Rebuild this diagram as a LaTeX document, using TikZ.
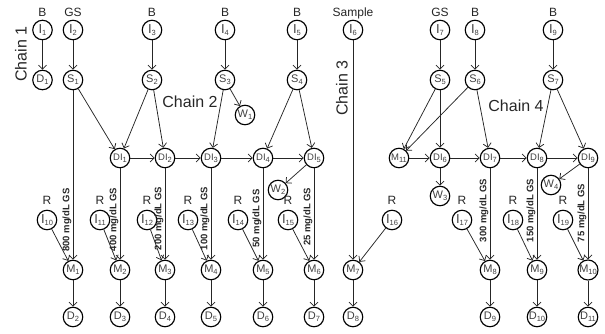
\documentclass[tikz,border=0pt]{standalone}
\usepackage{fontspec}
\setmainfont{Liberation Sans}
\usetikzlibrary{arrows.meta}
% small lowered index inside the circles
\newcommand{\nsub}[1]{\raisebox{-0.35ex}{\fontsize{7.5}{8}\selectfont #1}}
\tikzset{
  nd/.style={circle, draw=black, line width=1.15pt, minimum size=19.5pt, inner sep=0pt,
             text=black!75, font=\fontsize{11}{12}\selectfont},
  ind/.style={nd, font=\fontsize{13}{14}\selectfont},
  dnd/.style={nd, font=\fontsize{9.5}{10}\selectfont},
  arr/.style={draw=black!85, line width=0.75pt, -{Straight Barb[length=4pt,width=8pt]}},
  toplbl/.style={font=\fontsize{12}{13}\selectfont, inner sep=1pt, text depth=0pt, text=black!85},
  chainlbl/.style={font=\fontsize{16}{17}\selectfont, inner sep=0pt, text=black!85},
  conc/.style={rotate=90, anchor=south, inner sep=1.2pt, text=black!85,
               font=\bfseries\fontsize{9.5}{10}\selectfont},
}
\begin{document}
\begin{tikzpicture}[x=1pt, y=-1pt]
\useasboundingbox (0,0) rectangle (605,333);

% ---- input row
\node[ind, label={[toplbl, label distance=2pt]above:B}]      (I1) at (42.5,30) {I\nsub{1}};
\node[ind, label={[toplbl, label distance=2pt]above:GS}]     (I2) at (73,30)   {I\nsub{2}};
\node[ind, label={[toplbl, label distance=2pt]above:B}]      (I3) at (152,30)  {I\nsub{3}};
\node[ind, label={[toplbl, label distance=2pt]above:B}]      (I4) at (225,30)  {I\nsub{4}};
\node[ind, label={[toplbl, label distance=2pt]above:B}]      (I5) at (297,30)  {I\nsub{5}};
\node[ind, label={[toplbl, label distance=2pt]above:Sample}] (I6) at (353,30)  {I\nsub{6}};
\node[ind, label={[toplbl, label distance=2pt]above:GS}]     (I7) at (440,30)  {I\nsub{7}};
\node[ind, label={[toplbl, label distance=2pt]above:B}]      (I8) at (475,30)  {I\nsub{8}};
\node[ind, label={[toplbl, label distance=2pt]above:B}]      (I9) at (553,30)  {I\nsub{9}};

% ---- second row
\node[nd] (D1) at (42.5,80) {D\nsub{1}};
\node[nd] (S1) at (73,80)   {S\nsub{1}};
\node[nd] (S2) at (152,80)  {S\nsub{2}};
\node[nd] (S3) at (225,80)  {S\nsub{3}};
\node[nd] (S4) at (297,80)  {S\nsub{4}};
\node[nd] (S5) at (440,80)  {S\nsub{5}};
\node[nd] (S6) at (475,80)  {S\nsub{6}};
\node[nd] (S7) at (553,80)  {S\nsub{7}};
\node[nd] (W1) at (245,115) {W\nsub{1}};

% ---- dilution row
\node[dnd] (DI1) at (120,158) {DI\nsub{1}};
\node[dnd] (DI2) at (165,158) {DI\nsub{2}};
\node[dnd] (DI3) at (211,158) {DI\nsub{3}};
\node[dnd] (DI4) at (263,158) {DI\nsub{4}};
\node[dnd] (DI5) at (314,158) {DI\nsub{5}};
\node[dnd] (M11) at (399,158) {M\nsub{11}};
\node[dnd] (DI6) at (440,158) {DI\nsub{6}};
\node[dnd] (DI7) at (490,158) {DI\nsub{7}};
\node[dnd] (DI8) at (537,158) {DI\nsub{8}};
\node[dnd] (DI9) at (588,158) {DI\nsub{9}};
\node[nd] (W2) at (278,190) {W\nsub{2}};
\node[nd] (W3) at (440,196) {W\nsub{3}};
\node[nd] (W4) at (551,185) {W\nsub{4}};

% ---- reagent inputs
\node[ind, label={[toplbl, label distance=4pt]above:R}] (I10) at (47,220)  {I\nsub{10}};
\node[ind, label={[toplbl, label distance=4pt]above:R}] (I11) at (100,220) {I\nsub{11}};
\node[ind, label={[toplbl, label distance=4pt]above:R}] (I12) at (147,220) {I\nsub{12}};
\node[ind, label={[toplbl, label distance=4pt]above:R}] (I13) at (188,220) {I\nsub{13}};
\node[ind, label={[toplbl, label distance=4pt]above:R}] (I14) at (238,220) {I\nsub{14}};
\node[ind, label={[toplbl, label distance=4pt]above:R}] (I15) at (288,220) {I\nsub{15}};
\node[ind, label={[toplbl, label distance=4pt]above:R}] (I16) at (392,220) {I\nsub{16}};
\node[ind, label={[toplbl, label distance=4pt]above:R}] (I17) at (462,220) {I\nsub{17}};
\node[ind, label={[toplbl, label distance=4pt]above:R}] (I18) at (513,220) {I\nsub{18}};
\node[ind, label={[toplbl, label distance=4pt]above:R}] (I19) at (563,220) {I\nsub{19}};

% ---- mixers
\node[nd] (M1)  at (73,270)  {M\nsub{1}};
\node[nd] (M2)  at (120,270) {M\nsub{2}};
\node[nd] (M3)  at (165,270) {M\nsub{3}};
\node[nd] (M4)  at (211,270) {M\nsub{4}};
\node[nd] (M5)  at (263,270) {M\nsub{5}};
\node[nd] (M6)  at (314,270) {M\nsub{6}};
\node[nd] (M7)  at (353,270) {M\nsub{7}};
\node[nd] (M8)  at (490,270) {M\nsub{8}};
\node[nd] (M9)  at (537,270) {M\nsub{9}};
\node[nd] (M10) at (588,270) {M\nsub{10}};

% ---- detectors
\node[nd] (D2)  at (73,317)  {D\nsub{2}};
\node[nd] (D3)  at (120,317) {D\nsub{3}};
\node[nd] (D4)  at (165,317) {D\nsub{4}};
\node[nd] (D5)  at (211,317) {D\nsub{5}};
\node[nd] (D6)  at (263,317) {D\nsub{6}};
\node[nd] (D7)  at (314,317) {D\nsub{7}};
\node[nd] (D8)  at (353,317) {D\nsub{8}};
\node[nd] (D9)  at (490,317) {D\nsub{9}};
\node[nd] (D10) at (537,317) {D\nsub{10}};
\node[nd] (D11) at (588,317) {D\nsub{11}};

% ---- chain captions
\node[chainlbl, rotate=90] (c1) at (21,54)   {Chain 1};
\node[chainlbl]            (c2) at (190,102) {Chain 2};
\node[chainlbl, rotate=90] (c3) at (342,88)  {Chain 3};
\node[chainlbl]            (c4) at (516,106) {Chain 4};

% ---- dispensing
\draw[arr] (I1) -- (D1);
\draw[arr] (I2) -- (S1);
\draw[arr] (I3) -- (S2);
\draw[arr] (I4) -- (S3);
\draw[arr] (I5) -- (S4);
\draw[arr] (I7) -- (S5);
\draw[arr] (I8) -- (S6);
\draw[arr] (I9) -- (S7);
\draw[arr] (I6) -- (M7);

% ---- chain 2
\draw[arr] (S1) -- (DI1);
\draw[arr] (S2) -- (DI1);
\draw[arr] (S2) -- (DI2);
\draw[arr] (S3) -- (DI3);
\draw[arr] (S3) -- (W1);
\draw[arr] (S4) -- (DI4);
\draw[arr] (S4) -- (DI5);
\draw[arr] (DI1) -- (DI2);
\draw[arr] (DI2) -- (DI3);
\draw[arr] (DI3) -- (DI4);
\draw[arr] (DI4) -- (DI5);
\draw[arr] (DI5) -- (W2);
\draw[arr] (S1)  -- node[conc, pos=0.766] {800 mg/dL GS} (M1);
\draw[arr] (DI1) -- node[conc, pos=0.56]  {400 mg/dL GS} (M2);
\draw[arr] (DI2) -- node[conc, pos=0.55]  {200 mg/dL GS} (M3);
\draw[arr] (DI3) -- node[conc, pos=0.55]  {100 mg/dL GS} (M4);
\draw[arr] (DI4) -- node[conc, pos=0.55]  {50 mg/dL GS} (M5);
\draw[arr] (DI5) -- node[conc, pos=0.53]  {25 mg/dL GS} (M6);

% ---- chain 4
\draw[arr] (S5) -- (M11);
\draw[arr] (S6) -- (M11);
\draw[arr] (S5) -- (DI6);
\draw[arr] (S6) -- (DI7);
\draw[arr] (S7) -- (DI8);
\draw[arr] (S7) -- (DI9);
\draw[arr] (M11) -- (DI6);
\draw[arr] (DI6) -- (DI7);
\draw[arr] (DI7) -- (DI8);
\draw[arr] (DI8) -- (DI9);
\draw[arr] (DI6) -- (W3);
\draw[arr] (DI9) -- (W4);
\draw[arr] (DI7) -- node[conc, pos=0.46] {300 mg/dL GS} (M8);
\draw[arr] (DI8) -- node[conc, pos=0.46] {150 mg/dL GS} (M9);
\draw[arr] (DI9) -- node[conc, pos=0.49] {75 mg/dL GS} (M10);

% ---- reagent into mixers
\draw[arr] (I10) -- (M1);
\draw[arr] (I11) -- (M2);
\draw[arr] (I12) -- (M3);
\draw[arr] (I13) -- (M4);
\draw[arr] (I14) -- (M5);
\draw[arr] (I15) -- (M6);
\draw[arr] (I16) -- (M7);
\draw[arr] (I17) -- (M8);
\draw[arr] (I18) -- (M9);
\draw[arr] (I19) -- (M10);

% ---- mixers to detectors
\draw[arr] (M1) -- (D2);
\draw[arr] (M2) -- (D3);
\draw[arr] (M3) -- (D4);
\draw[arr] (M4) -- (D5);
\draw[arr] (M5) -- (D6);
\draw[arr] (M6) -- (D7);
\draw[arr] (M7) -- (D8);
\draw[arr] (M8) -- (D9);
\draw[arr] (M9) -- (D10);
\draw[arr] (M10) -- (D11);
\end{tikzpicture}
\end{document}
